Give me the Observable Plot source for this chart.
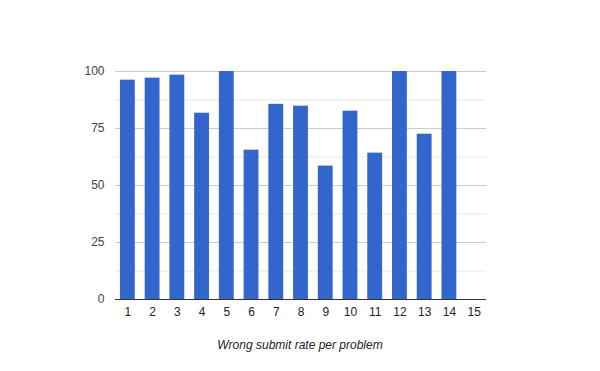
<!DOCTYPE html>
<html>
<head>
<meta charset="utf-8">
<script src="https://cdn.jsdelivr.net/npm/d3@7"></script>
<script src="https://cdn.jsdelivr.net/npm/@observablehq/plot@0.6"></script>
<style>
  html, body { margin: 0; padding: 0; background: #fff; }
  #chart { width: 600px; }
  #caption { font-family: Arial, "Liberation Sans", sans-serif; font-size: 12px; font-style: italic; color: #222; text-align: center; width: 600px; margin-top: 8px; line-height: 14px; }
</style>
</head>
<body>
<div id="chart"></div>
<div id="caption"></div>
<script>
const problems = ["1","2","3","4","5","6","7","8","9","10","11","12","13","14","15"];
const rates = [96.2, 97.1, 98.4, 81.7, 100, 65.5, 85.6, 84.8, 58.5, 82.6, 64.2, 100, 72.5, 100, 0];
const majorTicks = [0, 25, 50, 75, 100];
const minorTicks = [12.5, 37.5, 62.5, 87.5];
const captionText = "Wrong submit rate per problem";

const data = problems.map((p, i) => ({problem: p, rate: rates[i]}));

const chart = Plot.plot({
  width: 600,
  height: 330,
  marginTop: 71,
  marginBottom: 31,
  marginLeft: 115,
  marginRight: 114,
  style: { fontFamily: "Arial, 'Liberation Sans', sans-serif", fontSize: "12px", color: "#444", background: "#fff" },
  x: { domain: problems, paddingInner: 0.4, paddingOuter: 0.2, round: false, label: null },
  y: { domain: [0, 100], label: null },
  marks: [
    Plot.ruleY(minorTicks, { stroke: "#e8e8e8", strokeWidth: 1 }),
    Plot.ruleY(majorTicks.filter(d => d > 0), { stroke: "#cccccc", strokeWidth: 1 }),
    Plot.barY(data, { x: "problem", y: "rate", fill: "#3366cc" }),
    Plot.ruleY([0], { stroke: "#333", strokeWidth: 1 }),
    Plot.axisY(majorTicks, { tickSize: 0, tickPadding: 11, label: null, fill: "#444", fontSize: 12 }),
    Plot.axisX({ tickSize: 0, tickPadding: 8, label: null, fill: "#222", fontSize: 12 })
  ]
});
document.getElementById("chart").appendChild(chart);
document.getElementById("caption").textContent = captionText;
</script>
</body>
</html>
